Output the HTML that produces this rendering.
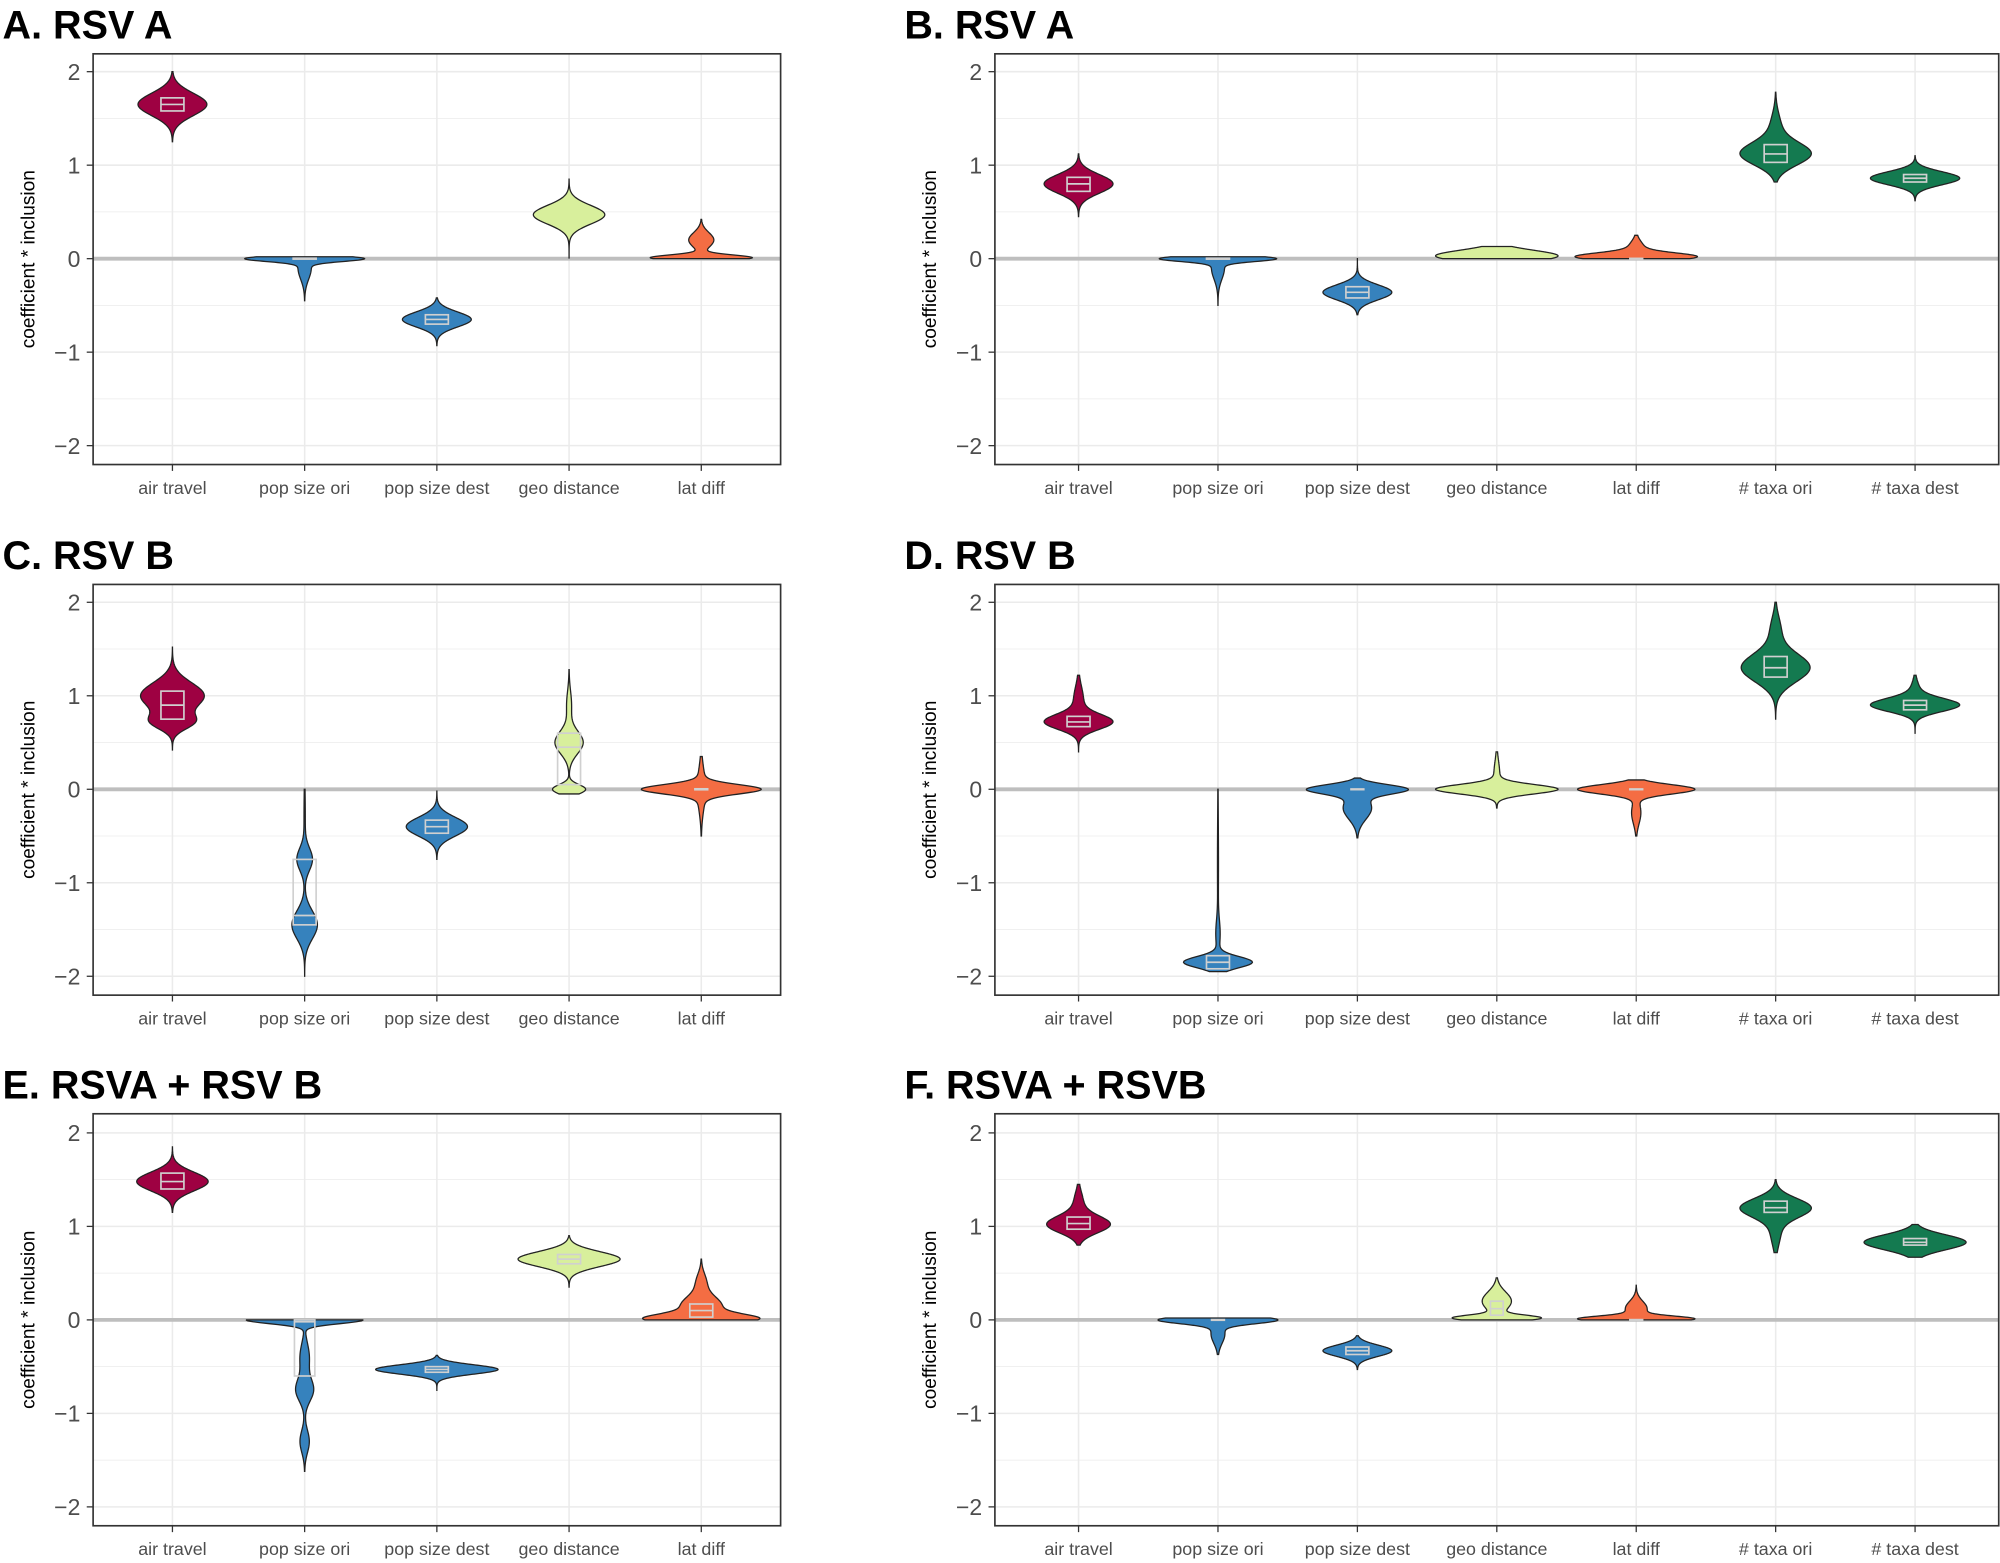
<!DOCTYPE html>
<html><head><meta charset="utf-8"><style>
html,body{margin:0;padding:0;background:#fff;}
svg{display:block;font-family:"Liberation Sans",sans-serif;}
</style></head><body>
<svg id="s" width="2000" height="1563" viewBox="0 0 1568 1225" xmlns="http://www.w3.org/2000/svg"></svg>
<script>
const S=document.getElementById('s');let out='';
const C={air:'#9E0142',pop:'#3682BD',geo:'#D8EF9C',lat:'#F46D43',tax:'#147A50'};
const labs5=['air travel','pop size ori','pop size dest','geo distance','lat diff'];
const labs7=labs5.concat(['# taxa ori','# taxa dest']);
const cols7=[C.air,C.pop,C.pop,C.geo,C.lat,C.tax,C.tax];
function panel(title,x0,x1,yT,yB,y2,n,vs){
  const u=73.3;
  const Y=v=>y2+(2-v)*u;
  out+=`<text x="${x0-71}" y="${yT-12}" font-size="31" font-weight="bold">${title}</text>`;
  for(let v=-2.5;v<=2.01;v+=0.5){const y=Y(v);if(y<yT||y>yB)continue;out+=`<line x1="${x0}" x2="${x1}" y1="${y}" y2="${y}" stroke="#ebebeb" stroke-width="${Number.isInteger(v)?1.2:0.6}"/>`;}
  const step=(x1-x0)/(n+0.2), X=i=>x0+step*(0.6+i);
  for(let i=0;i<n;i++){out+=`<line x1="${X(i)}" x2="${X(i)}" y1="${yT}" y2="${yB}" stroke="#ebebeb" stroke-width="1.2"/>`;}
  out+=`<line x1="${x0}" x2="${x1}" y1="${Y(0)}" y2="${Y(0)}" stroke="#bebebe" stroke-width="3"/>`;
  vs.forEach((v,i)=>{
    const [mn,mx,comps,hw,box]=v;const cx=X(i);const N=160;const pts=[];let m=0;
    for(let k=0;k<=N;k++){const val=mn+(mx-mn)*k/N;let d=0;comps.forEach(c=>{d+=c[2]*Math.exp(-0.5*((val-c[0])/c[1])**2)});pts.push([val,d]);if(d>m)m=d;}
    let p='';pts.forEach((q,k)=>{p+=(k?'L':'M')+(cx+hw*q[1]/m).toFixed(2)+' '+Y(q[0]).toFixed(2)});
    for(let k=N;k>=0;k--){const q=pts[k];p+='L'+(cx-hw*q[1]/m).toFixed(2)+' '+Y(q[0]).toFixed(2)}
    const col=n==5?[C.air,C.pop,C.pop,C.geo,C.lat][i]:cols7[i];
    out+=`<path d="${p}Z" fill="${col}" stroke="#222" stroke-width="1"/>`;
    if(box){const[b0,md,b1,bw]=box;const w=bw||18;
      out+=`<rect x="${cx-w/2}" y="${Y(b1)}" width="${w}" height="${Math.max(0.5,Y(b0)-Y(b1))}" fill="none" stroke="#d0d0d0" stroke-width="1.3"/><line x1="${cx-w/2}" x2="${cx+w/2}" y1="${Y(md)}" y2="${Y(md)}" stroke="#d0d0d0" stroke-width="1.3"/>`;}
  });
  out+=`<rect x="${x0}" y="${yT}" width="${x1-x0}" height="${yB-yT}" fill="none" stroke="#333" stroke-width="1.3"/>`;
  for(let v=-2;v<=2;v++){const y=Y(v);out+=`<line x1="${x0-5}" x2="${x0}" y1="${y}" y2="${y}" stroke="#333"/><text x="${x0-10}" y="${y+6.5}" font-size="18" text-anchor="end" fill="#4d4d4d">${v<0?'\u2212'+(-v):v}</text>`;}
  const L=n==5?labs5:labs7;
  for(let i=0;i<n;i++){out+=`<line x1="${X(i)}" x2="${X(i)}" y1="${yB}" y2="${yB+5}" stroke="#333"/><text x="${X(i)}" y="${yB+23}" font-size="14" text-anchor="middle" fill="#4d4d4d">${L[i]}</text>`;}
  const ym=(yT+yB)/2;out+=`<text transform="translate(${x0-46},${ym}) rotate(-90)" font-size="15" text-anchor="middle">coefficient * inclusion</text>`;
}
const g=(m,s,w)=>[m,s,w==null?1:w];
panel('A. RSV A',73,612,42,364,56,5,[
 [1.25,2.0,[g(1.65,0.12)],27,[1.58,1.65,1.72]],
 [-0.45,0.02,[g(0,0.03),g(-0.1,0.12,0.12)],47,[-0.005,0,0.005]],
 [-0.93,-0.42,[g(-0.65,0.08)],27,[-0.7,-0.65,-0.6]],
 [0,0.85,[g(0.47,0.1)],28,null],
 [0,0.42,[g(0.01,0.03),g(0.2,0.08,0.25)],40,null]]);
panel('B. RSV A',780,1567,42,364,56,7,[
 [0.45,1.12,[g(0.8,0.1)],27,[0.72,0.8,0.87]],
 [-0.5,0.02,[g(0,0.03),g(-0.1,0.12,0.12)],46,[-0.005,0,0.005]],
 [-0.6,0,[g(-0.36,0.08)],27,[-0.42,-0.36,-0.3]],
 [0,0.13,[g(0.03,0.06)],48,null],
 [0,0.25,[g(0.02,0.04),g(0.1,0.08,0.15)],48,[-0.003,0,0.003,10]],
 [0.82,1.78,[g(1.12,0.12),g(1.4,0.15,0.15)],28,[1.03,1.12,1.22]],
 [0.62,1.1,[g(0.86,0.07)],35,[0.82,0.86,0.9]]]);
panel('C. RSV B',73,612,458,780,472,5,[
 [0.42,1.52,[g(1.0,0.14),g(0.72,0.08,0.6)],25,[0.75,0.9,1.05]],
 [-2.0,0,[g(-0.75,0.12,0.6),g(-1.45,0.15,1),g(-0.3,0.3,0.05)],10,[-1.45,-1.35,-0.75]],
 [-0.75,-0.02,[g(-0.4,0.1)],24,[-0.47,-0.4,-0.33]],
 [-0.05,1.28,[g(0,0.05),g(0.5,0.12,0.85),g(0.9,0.15,0.15)],13,[0.05,0.45,0.6]],
 [-0.5,0.35,[g(0,0.05),g(0,0.2,0.08)],47,[-0.005,0,0.005,10]]]);
panel('D. RSV B',780,1567,458,780,472,7,[
 [0.4,1.22,[g(0.72,0.08),g(0.95,0.15,0.15)],27,[0.67,0.72,0.78]],
 [-1.95,0,[g(-1.85,0.06),g(-1.55,0.15,0.06),g(-0.8,0.5,0.015)],27,[-1.92,-1.85,-1.78]],
 [-0.52,0.12,[g(0,0.05),g(-0.2,0.12,0.3)],40,[-0.003,0,0.003,10]],
 [-0.2,0.4,[g(0,0.05),g(0.15,0.15,0.05)],48,null],
 [-0.5,0.1,[g(0,0.05),g(-0.25,0.12,0.08)],46,[-0.003,0,0.003,10]],
 [0.75,2.0,[g(1.3,0.15),g(1.7,0.15,0.15)],27,[1.2,1.3,1.42]],
 [0.6,1.22,[g(0.9,0.07),g(1.05,0.1,0.1)],35,[0.85,0.9,0.95]]]);
panel('E. RSVA + RSV B',73,612,873,1196,888,5,[
 [1.15,1.85,[g(1.48,0.1)],28,[1.4,1.48,1.57]],
 [-1.62,0,[g(0,0.04),g(-0.75,0.12,0.15),g(-1.3,0.12,0.08),g(-0.4,0.15,0.08)],46,[-0.6,-0.02,0,16]],
 [-0.76,-0.38,[g(-0.53,0.05)],48,[-0.56,-0.53,-0.5]],
 [0.35,0.9,[g(0.65,0.08)],40,[0.6,0.65,0.7]],
 [0,0.65,[g(0.01,0.05),g(0.15,0.1,0.4),g(0.4,0.1,0.1)],46,[0.03,0.1,0.17]]]);
panel('F. RSVA + RSVB',780,1567,873,1196,888,7,[
 [0.8,1.45,[g(1.02,0.09),g(1.25,0.12,0.15)],25,[0.97,1.03,1.1]],
 [-0.37,0.02,[g(0,0.04),g(-0.15,0.1,0.12)],47,[-0.003,0,0.003,10]],
 [-0.53,-0.17,[g(-0.33,0.06)],27,[-0.37,-0.33,-0.29]],
 [0,0.45,[g(0.02,0.03),g(0.2,0.1,0.35)],35,[0.05,0.12,0.2,10]],
 [0,0.37,[g(0.01,0.03),g(0.12,0.08,0.2)],46,[-0.003,0,0.003,10]],
 [0.72,1.5,[g(1.2,0.1),g(0.95,0.15,0.15)],28,[1.15,1.2,1.27]],
 [0.67,1.02,[g(0.83,0.08)],40,[0.8,0.83,0.87]]]);
S.innerHTML=out;
</script>
</body></html>
